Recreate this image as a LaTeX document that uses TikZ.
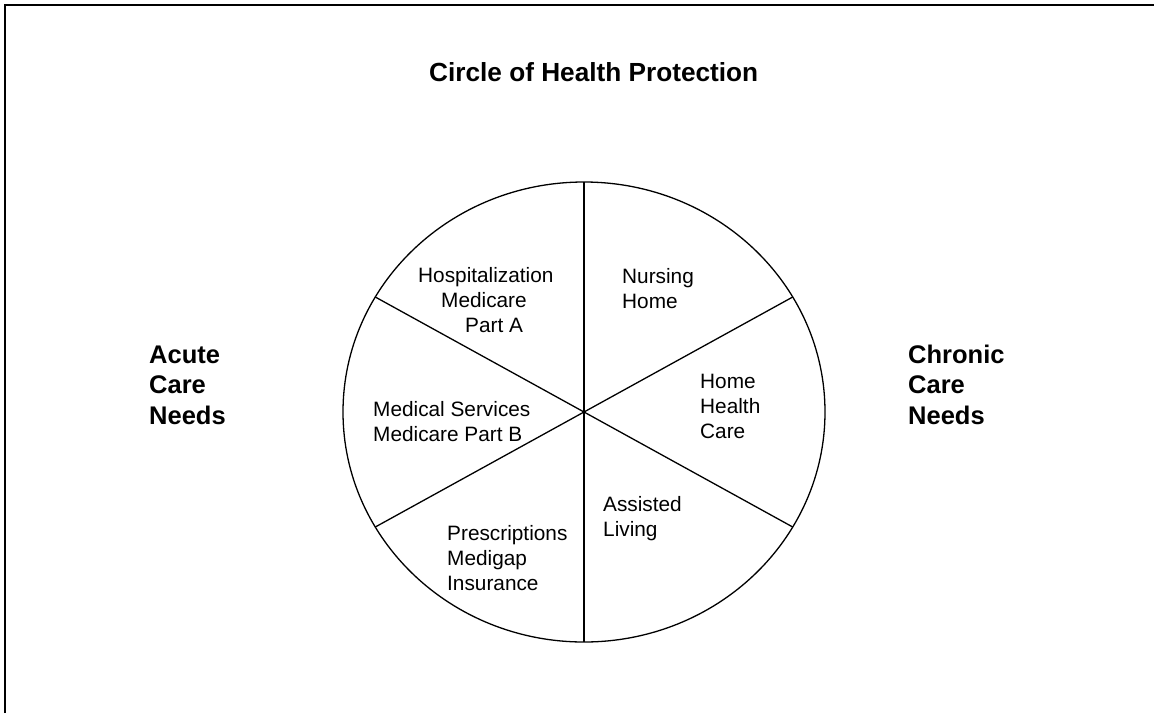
\documentclass[tikz,border=0pt]{standalone}
\usepackage{fontspec}
\setmainfont{Liberation Sans}
\usetikzlibrary{calc}
\begin{document}
\begin{tikzpicture}[x=1pt,y=-1pt,
  frame/.style={line width=2pt},
  seg/.style={line width=1.3pt},
  title/.style={font=\bfseries\fontsize{26.2}{30}\selectfont, anchor=base west, inner sep=0pt},
  % multi-line labels are placed by the baseline of their last line
  body/.style={font=\fontsize{20.8}{24.7}\selectfont, align=left, anchor=base west, inner sep=0pt},
  side/.style={font=\bfseries\fontsize{25.5}{30.5}\selectfont, align=left, anchor=base west, inner sep=0pt}]
\useasboundingbox (0,0) rectangle (1154,713);
% page frame (top and left edges)
\draw[frame] (4.7,713) -- (4.7,5.3) -- (1154,5.3);

% the circle and its six sectors
\coordinate (c) at (584,412);
\draw[seg] (c) ellipse [x radius=241pt, y radius=230pt];
\coordinate (top) at ($(c)+(90:241pt and 230pt)$);
\coordinate (bot) at ($(c)+(270:241pt and 230pt)$);
\coordinate (ur)  at ($(c)+(30:241pt and 230pt)$);
\coordinate (ul)  at ($(c)+(150:241pt and 230pt)$);
\coordinate (ll)  at ($(c)+(210:241pt and 230pt)$);
\coordinate (lr)  at ($(c)+(330:241pt and 230pt)$);
\draw[seg] (top) -- (bot);
\draw[seg] (ul) -- (lr);
\draw[seg] (ur) -- (ll);

% headings
\node[title] (head) at (429,81) {Circle of Health Protection};
\node[side] (acute) at (149,424) {Acute\\Care\\Needs};
\node[side] (chronic) at (908,424) {Chronic\\Care\\Needs};

% sector labels
\node[body] (hosp) at (418,332) {Hospitalization\\\hspace*{23pt}Medicare\\\hspace*{47pt}Part A};
\node[body] (nurs) at (622,308) {Nursing\\Home};
\node[body] (med) at (373,441) {Medical Services\\Medicare Part B};
\node[body] (home) at (700,438) {Home\\Health\\Care};
\node[body] (presc) at (447,590) {Prescriptions\\Medigap\\Insurance};
\node[body] (assist) at (603,536) {Assisted\\Living};
\end{tikzpicture}
\end{document}
